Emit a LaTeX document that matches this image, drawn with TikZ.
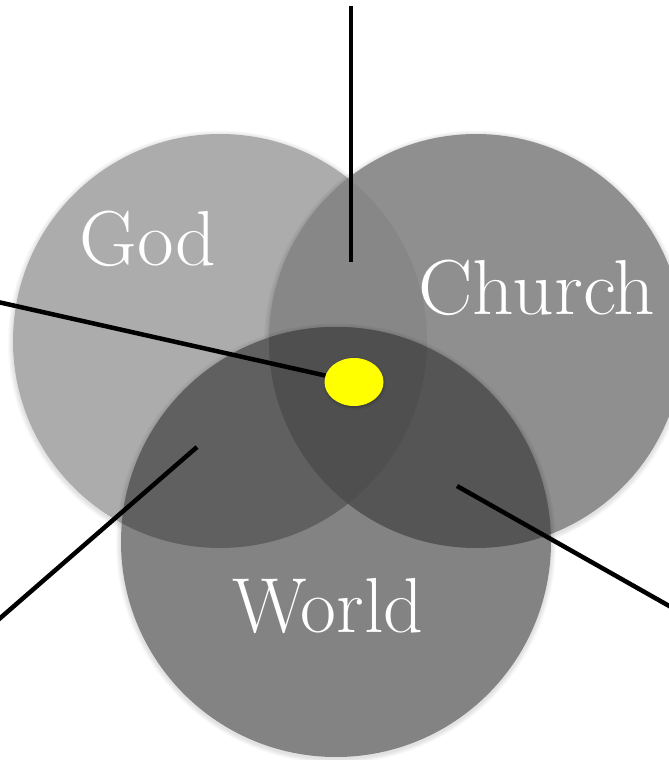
\documentclass[tikz,border=0pt]{standalone}
\usepackage{fontspec}
\usetikzlibrary{shapes.geometric,shadows.blur}
\definecolor{godfill}{HTML}{ACACAC}
\definecolor{churchfill}{HTML}{8F8F8F}
\definecolor{gcfill}{HTML}{878787}
\definecolor{worldfill}{HTML}{838383}
\definecolor{gwfill}{HTML}{606060}
\definecolor{cwfill}{HTML}{555555}
\definecolor{allfill}{HTML}{4F4F4F}
\definecolor{dotyellow}{HTML}{FFFF00}
\newcommand\haloring[3]{%
  \foreach \dd in {1,...,5}{\fill[black,opacity=0.025] (#1,#2+1.5) circle[radius=#3pt+\dd pt];}}
\begin{document}
\begin{tikzpicture}[x=1pt,y=-1pt,
  lbl/.style={text=white, anchor=base, inner sep=0pt, font=\fontsize{78}{78}\selectfont},
  conn/.style={line width=4.5pt, draw=black},
  dotnode/.style={ellipse, fill=dotyellow, minimum width=59pt, minimum height=48pt, inner sep=0pt,
    blur shadow={shadow xshift=0.5pt, shadow yshift=-1.5pt, shadow opacity=30, shadow blur radius=2pt}}]
\useasboundingbox (0,0) rectangle (669,760);
\clip (0,0) rectangle (669,760);
\def\G{(220,341) circle[radius=207pt]}
\def\C{(476,341) circle[radius=207pt]}
\def\W{(336,542) circle[radius=215pt]}
% God
\haloring{220}{341}{207}
\fill[godfill] \G;
% Church
\haloring{476}{341}{207}
\fill[churchfill] \C;
\begin{scope}\clip \G; \fill[gcfill] \C;\end{scope}
% World
\haloring{336}{542}{215}
\fill[worldfill] \W;
\begin{scope}
  \clip \W;
  \fill[gwfill] \G;
  \fill[cwfill] \C;
  \clip \G;
  \fill[allfill] \C;
\end{scope}
% labels
\node[lbl] (godlbl) at (148,265) {\scalebox{1.02}[1]{God}};
\node[lbl] (churchlbl) at (537,314) {\scalebox{1.045}[1]{Church}};
\node[lbl] (worldlbl) at (328,632) {World};
% centre dot
\node[dotnode] (dot) at (354,382) {};
% connectors
\coordinate (topend) at (351,6);
\coordinate (topin) at (351,262);
\coordinate (leftend) at (-2,302);
\coordinate (llend) at (-2,620);
\coordinate (llin) at (197,447);
\coordinate (lrin) at (457,486);
\coordinate (lrend) at (671,607);
\draw[conn] (topend) -- (topin);
\draw[conn] (leftend) -- (dot);
\draw[conn] (llend) -- (llin);
\draw[conn] (lrin) -- (lrend);
\end{tikzpicture}
\end{document}
